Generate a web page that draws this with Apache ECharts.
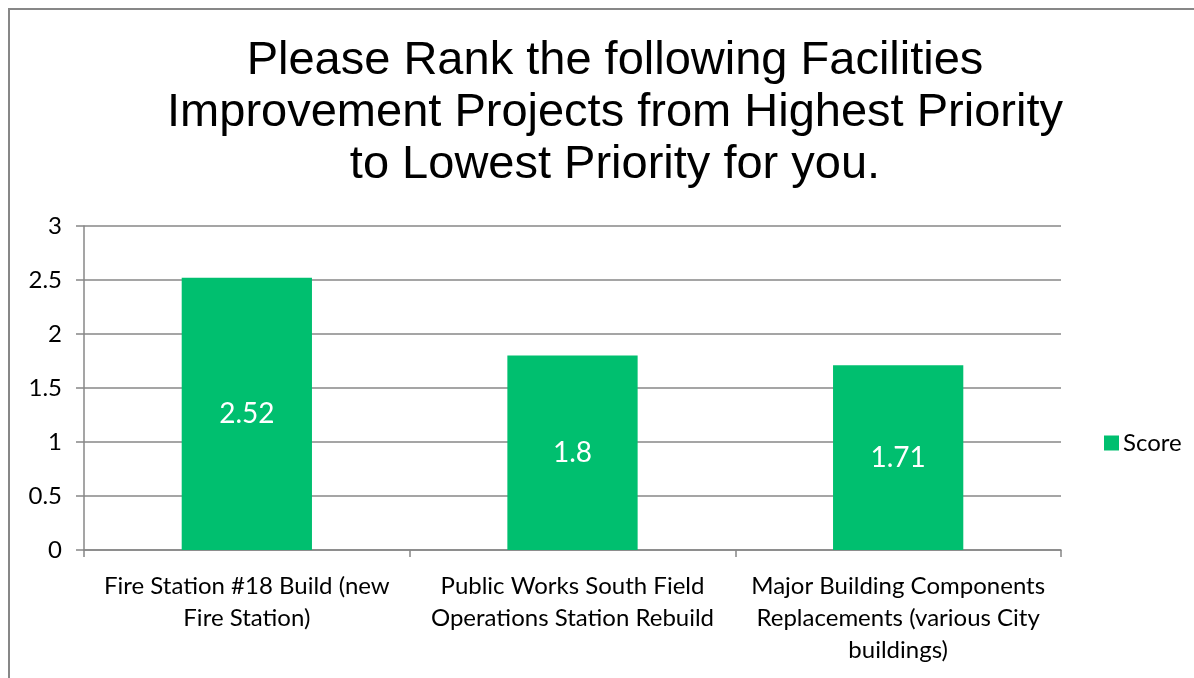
<!DOCTYPE html>
<html>
<head>
<meta charset="utf-8">
<script src="https://cdn.jsdelivr.net/npm/echarts@6/dist/echarts.min.js"></script>
<style>
  html, body { margin: 0; padding: 0; background: #fff; overflow: hidden; }
  #frame { position: absolute; left: 8px; top: 8px; width: 1300px; height: 800px; border-left: 2px solid #878787; border-top: 2px solid #878787; }
  #chart { position: absolute; left: 0; top: 0; width: 1194px; height: 678px; }
</style>
</head>
<body>
<div id="frame"></div>
<div id="chart"></div>
<script>
// chart data
var categories = [
  'Fire Station #18 Build (new\nFire Station)',
  'Public Works South Field\nOperations Station Rebuild',
  'Major Building Components\nReplacements (various City\nbuildings)'
];
var scores = [2.52, 1.8, 1.71];
var titleText = 'Please Rank the following Facilities\nImprovement Projects from Highest Priority\nto Lowest Priority for you.';

var myChart = echarts.init(document.getElementById('chart'));
var labelFont = 'Lato, "Open Sans", sans-serif';

var option = {
  animation: false,
  title: {
    text: titleText,
    left: 610,
    top: 30,
    textAlign: 'center',
    textStyle: {
      fontFamily: '"Liberation Sans", Arial, sans-serif',
      fontSize: 47,
      fontWeight: 'normal',
      color: '#000',
      lineHeight: 52
    }
  },
  legend: {
    data: ['Score'],
    left: 1099,
    top: 426,
    itemWidth: 15,
    itemHeight: 15,
    itemGap: 5,
    icon: 'rect',
    textStyle: { fontFamily: labelFont, fontSize: 24, color: '#000', padding: [0, 0, 0, -1] }
  },
  grid: { left: 84, right: 133, top: 226, bottom: 128 },
  xAxis: {
    type: 'category',
    data: categories,
    axisLine: { lineStyle: { color: '#878787', width: 1.5 } },
    axisTick: { show: true, length: 7, lineStyle: { color: '#878787', width: 1.5 } },
    axisLabel: {
      interval: 0,
      margin: 20,
      fontFamily: labelFont,
      fontSize: 24,
      lineHeight: 32,
      color: '#000'
    }
  },
  yAxis: {
    type: 'value',
    min: 0,
    max: 3,
    interval: 0.5,
    axisLine: { show: true, lineStyle: { color: '#878787', width: 1.5 } },
    axisTick: { show: true, length: 8, lineStyle: { color: '#878787', width: 1.5 } },
    splitLine: { lineStyle: { color: '#878787', width: 1.5 } },
    axisLabel: {
      margin: 22,
      fontFamily: labelFont,
      fontSize: 24,
      color: '#000'
    }
  },
  series: [{
    name: 'Score',
    type: 'bar',
    data: scores,
    barWidth: '40%',
    itemStyle: { color: '#00BF6F' },
    label: {
      show: true,
      position: 'inside',
      fontFamily: labelFont,
      fontSize: 28,
      color: '#fff'
    }
  }]
};

myChart.setOption(option);
</script>
</body>
</html>
